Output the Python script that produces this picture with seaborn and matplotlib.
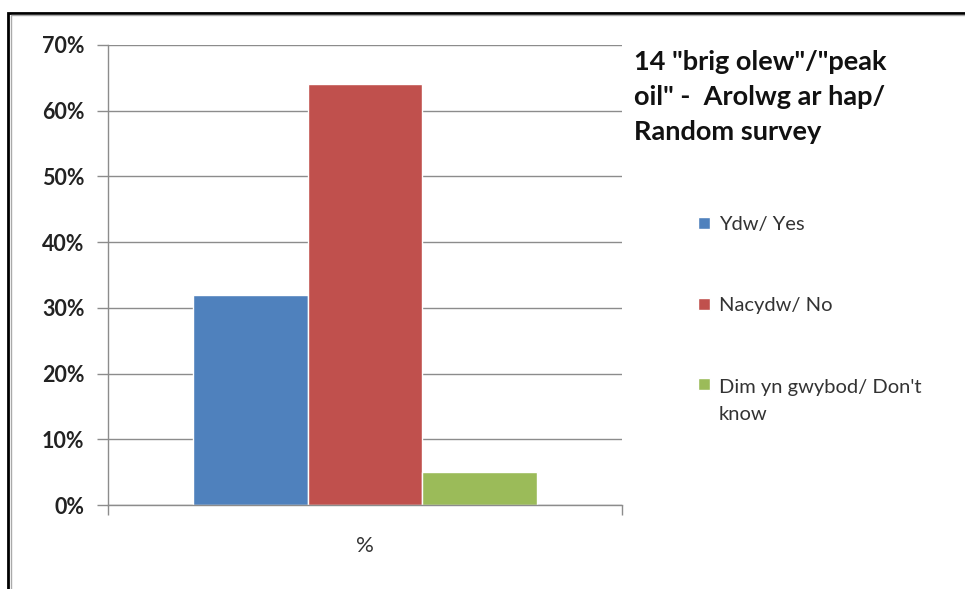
import matplotlib
matplotlib.use("Agg")
import matplotlib.pyplot as plt
import seaborn as sns
import pandas as pd
from matplotlib.patches import Rectangle

# Survey responses for question 14
category = ["%"]
responses = ["Ydw/ Yes", "Nacydw/ No", "Dim yn gwybod/ Don't\nknow"]
shares = [32, 64, 5]
colors = ["#4F81BD", "#C0504D", "#9BBB59"]
y_ticks = [0, 10, 20, 30, 40, 50, 60, 70]
y_labels = [f"{v}%" for v in y_ticks]
title = '14 "brig olew"/"peak\noil" -  Arolwg ar hap/\nRandom survey'

df = pd.DataFrame({"cat": category * len(responses), "resp": responses, "val": shares})

sns.set_theme(style="white")
plt.rcParams["font.family"] = ["Lato", "DejaVu Sans"]

fig = plt.figure(figsize=(9.65, 5.89), dpi=100)
ax = fig.add_axes([0.1119, 0.1426, 0.5326, 0.781])

sns.barplot(data=df, x="cat", y="val", hue="resp", palette=colors,
            width=0.67, gap=0, saturation=1, ax=ax, legend=True)

ax.set_ylim(0, 70)
ax.set_xlim(-0.5, 0.5)
ax.set_yticks(y_ticks)
ax.set_yticklabels(y_labels, fontsize=15.5, fontweight="bold", color="#222222")
ax.set_xticks([0])
ax.set_xticklabels(category, fontsize=16, color="#333333")
ax.set_xlabel("")
ax.set_ylabel("")

ax.grid(axis="y", color="#8c8c8c", linewidth=1.0)
ax.set_axisbelow(True)
for s in ["top", "right"]:
    ax.spines[s].set_visible(False)
for s in ["left", "bottom"]:
    ax.spines[s].set_color("#8c8c8c")
    ax.spines[s].set_linewidth(1.0)

ax.tick_params(axis="y", which="major", left=True, length=8, width=1,
               color="#8c8c8c", pad=9)
ax.tick_params(axis="x", which="major", bottom=False, pad=16.5)
ax.set_xticks([-0.5, 0.5], minor=True)
ax.tick_params(axis="x", which="minor", bottom=True, length=7, width=1,
               color="#8c8c8c")

# legend on the right, widely spaced entries
leg = ax.legend(loc="upper left", bbox_to_anchor=(0.705, 0.664),
                bbox_transform=fig.transFigure, frameon=False,
                fontsize=14.5, handlelength=0.55, handleheight=0.55,
                handletextpad=0.45, labelspacing=3.2)
for t in leg.get_texts():
    t.set_color("#333333")
    t.set_linespacing(1.7)
# keep the swatch of the two-line entry beside its first line
green = leg.legend_handles[2]
green.set_y(green.get_y() + 0.5 * 1.7 * 14.5 * 0.97)

fig.text(0.657, 0.915, title, fontsize=19.5, fontweight="bold",
         color="#111111", va="top", ha="left", linespacing=1.55)

# double frame around the whole chart area
fig.patches.append(Rectangle((0.0088, -0.01), 1.2, 0.9886, transform=fig.transFigure,
                             fill=False, edgecolor="black", linewidth=2.0))
fig.patches.append(Rectangle((0.0115, -0.01), 1.2, 0.9846, transform=fig.transFigure,
                             fill=False, edgecolor="#aaaaaa", linewidth=1.0))

fig.savefig("out.png", dpi=100)
